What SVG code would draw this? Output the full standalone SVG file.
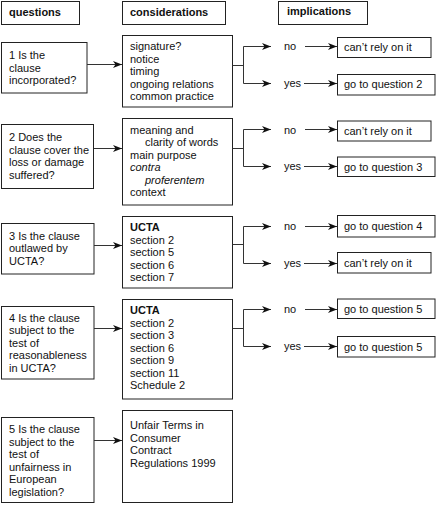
<svg xmlns="http://www.w3.org/2000/svg" width="439" height="505" viewBox="0 0 439 505">
<style>
text{font-family:"Liberation Sans",Arial,Helvetica,sans-serif;font-size:11px;fill:#111}
.b{font-weight:bold}
.i{font-style:italic}
g rect{fill:#fff;stroke:#222;stroke-width:1}
.c line,.c path{stroke:#333;stroke-width:1;fill:none}
</style>
<defs>
<marker id="ah" markerWidth="9" markerHeight="7" refX="9" refY="3.5" orient="auto" markerUnits="userSpaceOnUse">
<path d="M0,0 L9,3.5 L0,7 L2.5,3.5 z" fill="#111"/>
</marker>
</defs>
<rect width="439" height="505" fill="#fff"/>
<g id="h-questions"><rect x="1.5" y="1.5" width="78" height="23"/><text class="b" x="9" y="16">questions</text></g>
<g id="h-considerations"><rect x="122.5" y="1.5" width="103" height="23"/><text class="b" x="130" y="16">considerations</text></g>
<g id="h-implications"><rect x="278.5" y="1.5" width="89" height="23"/><text class="b" x="287" y="15">implications</text></g>

<g id="q1"><rect x="1.5" y="42.5" width="85.5" height="50.5"/><text x="9"><tspan x="9" y="59">1 Is the</tspan><tspan x="9" y="71.5">clause</tspan><tspan x="9" y="84">incorporated?</tspan></text></g>
<g id="c1"><rect x="122.5" y="35.5" width="110" height="71.5"/><text><tspan x="130" y="50">signature?</tspan><tspan x="130" y="62.5">notice</tspan><tspan x="130" y="75">timing</tspan><tspan x="130" y="87.5">ongoing relations</tspan><tspan x="130" y="100">common practice</tspan></text></g>
<g id="c1-no"><text x="284" y="50">no</text></g>
<g id="c1-yes"><text x="284" y="87">yes</text></g>
<g id="i1-no"><rect x="337.5" y="37.5" width="93.5" height="20"/><text x="344" y="51">can’t rely on it</text></g>
<g id="i1-yes"><rect x="337.5" y="74.5" width="97.5" height="20.5"/><text x="344" y="88">go to question 2</text></g>

<g id="q2"><rect x="1.5" y="124.5" width="92" height="64"/><text><tspan x="9" y="141">2 Does the</tspan><tspan x="9" y="153.5">clause cover the</tspan><tspan x="9" y="166">loss or damage</tspan><tspan x="9" y="178.5">suffered?</tspan></text></g>
<g id="c2"><rect x="122.5" y="118.5" width="110" height="86.5"/><text><tspan x="130" y="133.5">meaning and</tspan><tspan x="145" y="146">clarity of words</tspan><tspan x="130" y="158.5">main purpose</tspan><tspan x="130" y="171" class="i">contra</tspan><tspan x="145" y="183.5" class="i">proferentem</tspan><tspan x="130" y="196">context</tspan></text></g>
<g id="c2-no"><text x="284" y="133.5">no</text></g>
<g id="c2-yes"><text x="284" y="170">yes</text></g>
<g id="i2-no"><rect x="337.5" y="121" width="93.5" height="20"/><text x="344" y="134.5">can’t rely on it</text></g>
<g id="i2-yes"><rect x="337.5" y="157" width="97.5" height="19.5"/><text x="344" y="170.5">go to question 3</text></g>

<g id="q3"><rect x="1.5" y="223.5" width="92.5" height="50.5"/><text><tspan x="9" y="239.5">3 Is the clause</tspan><tspan x="9" y="252">outlawed by</tspan><tspan x="9" y="264.5">UCTA?</tspan></text></g>
<g id="c3"><rect x="122.5" y="216.5" width="110" height="71.5"/><text><tspan x="130" y="231" class="b">UCTA</tspan><tspan x="130" y="243.5">section 2</tspan><tspan x="130" y="256">section 5</tspan><tspan x="130" y="268.5">section 6</tspan><tspan x="130" y="281">section 7</tspan></text></g>
<g id="c3-no"><text x="284" y="230">no</text></g>
<g id="c3-yes"><text x="284" y="266.5">yes</text></g>
<g id="i3-no"><rect x="337.5" y="215.5" width="97.5" height="21.5"/><text x="344" y="230">go to question 4</text></g>
<g id="i3-yes"><rect x="337.5" y="252.5" width="93.5" height="20.5"/><text x="344" y="266.5">can’t rely on it</text></g>

<g id="q4"><rect x="1.5" y="306.5" width="92.5" height="72.5"/><text><tspan x="9" y="321.5">4 Is the clause</tspan><tspan x="9" y="334">subject to the</tspan><tspan x="9" y="346.5">test of</tspan><tspan x="9" y="359">reasonableness</tspan><tspan x="9" y="371.5">in UCTA?</tspan></text></g>
<g id="c4"><rect x="122.5" y="299.5" width="110" height="99.5"/><text><tspan x="130" y="314" class="b">UCTA</tspan><tspan x="130" y="326.5">section 2</tspan><tspan x="130" y="339">section 3</tspan><tspan x="130" y="351.5">section 6</tspan><tspan x="130" y="364">section 9</tspan><tspan x="130" y="376.5">section 11</tspan><tspan x="130" y="389">Schedule 2</tspan></text></g>
<g id="c4-no"><text x="284" y="312.5">no</text></g>
<g id="c4-yes"><text x="284" y="350">yes</text></g>
<g id="i4-no"><rect x="337.5" y="299" width="97.5" height="19.5"/><text x="344" y="312.5">go to question 5</text></g>
<g id="i4-yes"><rect x="337.5" y="336.5" width="97.5" height="20.5"/><text x="344" y="350.5">go to question 5</text></g>

<g id="q5"><rect x="1.5" y="417.5" width="92.5" height="85"/><text><tspan x="9" y="433">5 Is the clause</tspan><tspan x="9" y="445.5">subject to the</tspan><tspan x="9" y="458">test of</tspan><tspan x="9" y="470.5">unfairness in</tspan><tspan x="9" y="483">European</tspan><tspan x="9" y="495.5">legislation?</tspan></text></g>
<g id="c5"><rect x="122.5" y="410.5" width="110" height="92"/><text><tspan x="130" y="429">Unfair Terms in</tspan><tspan x="130" y="441.5">Consumer</tspan><tspan x="130" y="454">Contract</tspan><tspan x="130" y="466.5">Regulations 1999</tspan></text></g>

<g id="connectors" class="c">
<line x1="87" y1="64.5" x2="122" y2="64.5" marker-end="url(#ah)"/>
<line x1="94" y1="148.5" x2="122" y2="148.5" marker-end="url(#ah)"/>
<line x1="94" y1="245.5" x2="122" y2="245.5" marker-end="url(#ah)"/>
<line x1="94" y1="328.5" x2="122" y2="328.5" marker-end="url(#ah)"/>
<line x1="94" y1="440.5" x2="122" y2="440.5" marker-end="url(#ah)"/>

<path d="M232.5,65.5 H243.5 M243.5,46.5 V83.5"/>
<line x1="243.5" y1="46.5" x2="271" y2="46.5" marker-end="url(#ah)"/>
<line x1="243.5" y1="83.5" x2="271" y2="83.5" marker-end="url(#ah)"/>
<line x1="305" y1="46.5" x2="337" y2="46.5" marker-end="url(#ah)"/>
<line x1="304" y1="83.5" x2="337" y2="83.5" marker-end="url(#ah)"/>

<path d="M232.5,148.5 H243.5 M243.5,129.5 V166.5"/>
<line x1="243.5" y1="129.5" x2="271" y2="129.5" marker-end="url(#ah)"/>
<line x1="243.5" y1="166.5" x2="271" y2="166.5" marker-end="url(#ah)"/>
<line x1="305" y1="129.5" x2="337" y2="129.5" marker-end="url(#ah)"/>
<line x1="304" y1="166.5" x2="337" y2="166.5" marker-end="url(#ah)"/>

<path d="M232.5,244.5 H243.5 M243.5,226.5 V263.5"/>
<line x1="243.5" y1="226.5" x2="271" y2="226.5" marker-end="url(#ah)"/>
<line x1="243.5" y1="263.5" x2="271" y2="263.5" marker-end="url(#ah)"/>
<line x1="305" y1="226.5" x2="337" y2="226.5" marker-end="url(#ah)"/>
<line x1="304" y1="263.5" x2="337" y2="263.5" marker-end="url(#ah)"/>

<path d="M232.5,328.5 H243.5 M243.5,309.5 V346.5"/>
<line x1="243.5" y1="309.5" x2="271" y2="309.5" marker-end="url(#ah)"/>
<line x1="243.5" y1="346.5" x2="271" y2="346.5" marker-end="url(#ah)"/>
<line x1="305" y1="309.5" x2="337" y2="309.5" marker-end="url(#ah)"/>
<line x1="304" y1="346.5" x2="337" y2="346.5" marker-end="url(#ah)"/>
</g>
</svg>
